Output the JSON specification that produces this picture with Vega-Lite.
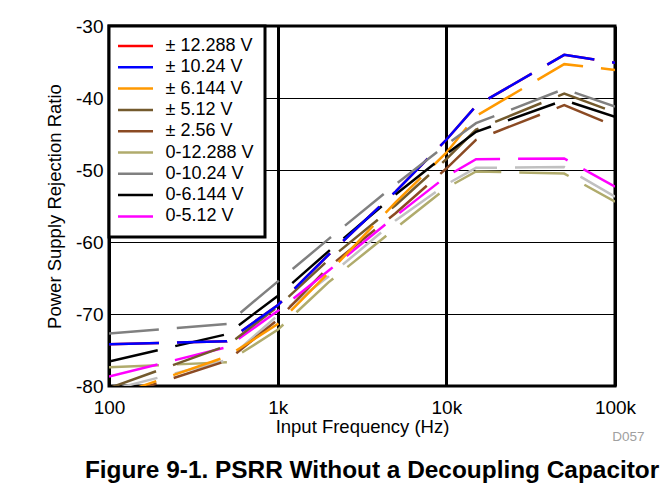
{
  "$schema": "https://vega.github.io/schema/vega-lite/v6.json",
  "background": "white",
  "padding": {"left": 44, "top": 15, "right": 5, "bottom": 5},
  "title": {"text": "Figure 9-1. PSRR Without a Decoupling Capacitor", "orient": "bottom", "anchor": "middle", "font": "Liberation Sans", "fontSize": 24.4, "fontWeight": "bold", "color": "black", "offset": 14, "dx": 27},
  "config": {
    "view": {"stroke": "black", "strokeWidth": 3},
    "font": "Liberation Sans"
  },
  "vconcat": [
    {
      "width": 506,
      "height": 360,
      "title": {"text": "D057", "orient": "bottom", "anchor": "end", "font": "Liberation Sans", "fontSize": 13.5, "fontWeight": "normal", "color": "#a0a0a0", "dx": 9, "offset": -6},
      "data": {"values": [
        {"s": "± 12.288 V", "f": 100, "v": -74.2}, {"s": "± 12.288 V", "f": 500, "v": -73.8}, {"s": "± 12.288 V", "f": 1000, "v": -68.8}, {"s": "± 12.288 V", "f": 2000, "v": -61.8}, {"s": "± 12.288 V", "f": 5000, "v": -53.0}, {"s": "± 12.288 V", "f": 10000, "v": -45.8}, {"s": "± 12.288 V", "f": 15000, "v": -41.1}, {"s": "± 12.288 V", "f": 50000, "v": -34.0}, {"s": "± 12.288 V", "f": 100000, "v": -35.1},
        {"s": "0-12.288 V", "f": 100, "v": -77.4}, {"s": "0-12.288 V", "f": 500, "v": -76.7}, {"s": "0-12.288 V", "f": 1000, "v": -72.2}, {"s": "0-12.288 V", "f": 2000, "v": -65.6}, {"s": "0-12.288 V", "f": 5000, "v": -58.1}, {"s": "0-12.288 V", "f": 10000, "v": -52.5}, {"s": "0-12.288 V", "f": 15000, "v": -50.2}, {"s": "0-12.288 V", "f": 50000, "v": -50.5}, {"s": "0-12.288 V", "f": 100000, "v": -54.4},
        {"s": "0-2.56 V", "f": 100, "v": -80.6}, {"s": "0-2.56 V", "f": 500, "v": -76.4}, {"s": "0-2.56 V", "f": 1000, "v": -70.2}, {"s": "0-2.56 V", "f": 2000, "v": -64.8}, {"s": "0-2.56 V", "f": 5000, "v": -57.0}, {"s": "0-2.56 V", "f": 10000, "v": -52.0}, {"s": "0-2.56 V", "f": 15000, "v": -49.7}, {"s": "0-2.56 V", "f": 50000, "v": -49.6}, {"s": "0-2.56 V", "f": 100000, "v": -53.7},
        {"s": "± 2.56 V", "f": 100, "v": -81.8}, {"s": "± 2.56 V", "f": 500, "v": -76.5}, {"s": "± 2.56 V", "f": 1000, "v": -70.8}, {"s": "± 2.56 V", "f": 2000, "v": -63.5}, {"s": "± 2.56 V", "f": 5000, "v": -56.0}, {"s": "± 2.56 V", "f": 10000, "v": -49.8}, {"s": "± 2.56 V", "f": 15000, "v": -45.8}, {"s": "± 2.56 V", "f": 50000, "v": -41.0}, {"s": "± 2.56 V", "f": 100000, "v": -43.9},
        {"s": "0-5.12 V", "f": 100, "v": -78.7}, {"s": "0-5.12 V", "f": 500, "v": -74.6}, {"s": "0-5.12 V", "f": 1000, "v": -69.6}, {"s": "0-5.12 V", "f": 2000, "v": -64.0}, {"s": "0-5.12 V", "f": 5000, "v": -56.4}, {"s": "0-5.12 V", "f": 10000, "v": -50.9}, {"s": "0-5.12 V", "f": 15000, "v": -48.5}, {"s": "0-5.12 V", "f": 50000, "v": -48.4}, {"s": "0-5.12 V", "f": 100000, "v": -52.3},
        {"s": "± 5.12 V", "f": 100, "v": -80.3}, {"s": "± 5.12 V", "f": 500, "v": -74.4}, {"s": "± 5.12 V", "f": 1000, "v": -69.0}, {"s": "± 5.12 V", "f": 2000, "v": -62.5}, {"s": "± 5.12 V", "f": 5000, "v": -54.9}, {"s": "± 5.12 V", "f": 10000, "v": -48.5}, {"s": "± 5.12 V", "f": 15000, "v": -44.4}, {"s": "± 5.12 V", "f": 50000, "v": -39.4}, {"s": "± 5.12 V", "f": 100000, "v": -42.0},
        {"s": "± 6.144 V", "f": 100, "v": -81.6}, {"s": "± 6.144 V", "f": 500, "v": -75.9}, {"s": "± 6.144 V", "f": 1000, "v": -71.4}, {"s": "± 6.144 V", "f": 2000, "v": -64.3}, {"s": "± 6.144 V", "f": 5000, "v": -54.5}, {"s": "± 6.144 V", "f": 10000, "v": -47.6}, {"s": "± 6.144 V", "f": 15000, "v": -42.5}, {"s": "± 6.144 V", "f": 50000, "v": -35.3}, {"s": "± 6.144 V", "f": 100000, "v": -36.1},
        {"s": "0-6.144 V", "f": 100, "v": -76.6}, {"s": "0-6.144 V", "f": 500, "v": -72.8}, {"s": "0-6.144 V", "f": 1000, "v": -67.5}, {"s": "0-6.144 V", "f": 2000, "v": -61.3}, {"s": "0-6.144 V", "f": 5000, "v": -53.4}, {"s": "0-6.144 V", "f": 10000, "v": -47.8}, {"s": "0-6.144 V", "f": 15000, "v": -44.7}, {"s": "0-6.144 V", "f": 50000, "v": -40.3}, {"s": "0-6.144 V", "f": 100000, "v": -42.6},
        {"s": "± 10.24 V", "f": 100, "v": -74.2}, {"s": "± 10.24 V", "f": 500, "v": -73.8}, {"s": "± 10.24 V", "f": 1000, "v": -68.8}, {"s": "± 10.24 V", "f": 2000, "v": -61.8}, {"s": "± 10.24 V", "f": 5000, "v": -53.0}, {"s": "± 10.24 V", "f": 10000, "v": -45.8}, {"s": "± 10.24 V", "f": 15000, "v": -41.1}, {"s": "± 10.24 V", "f": 50000, "v": -34.0}, {"s": "± 10.24 V", "f": 100000, "v": -35.1},
        {"s": "0-10.24 V", "f": 100, "v": -72.7}, {"s": "0-10.24 V", "f": 500, "v": -71.4}, {"s": "0-10.24 V", "f": 1000, "v": -65.5}, {"s": "0-10.24 V", "f": 2000, "v": -59.6}, {"s": "0-10.24 V", "f": 5000, "v": -52.0}, {"s": "0-10.24 V", "f": 10000, "v": -46.5}, {"s": "0-10.24 V", "f": 15000, "v": -43.5}, {"s": "0-10.24 V", "f": 50000, "v": -38.75}, {"s": "0-10.24 V", "f": 100000, "v": -41.2}
      ]},
      "mark": {"type": "line", "strokeWidth": 2.5, "strokeDash": [50, 18], "clip": true},
      "encoding": {
        "x": {
          "field": "f", "type": "quantitative",
          "scale": {"type": "log", "domain": [100, 100000]},
          "axis": {
            "values": [100, 1000, 10000, 100000],
            "labelExpr": "datum.value >= 1000 ? (datum.value / 1000) + 'k' : '' + datum.value",
            "grid": true, "gridColor": "black", "gridWidth": 3, "gridOpacity": 1,
            "ticks": false, "domain": false,
            "labelFont": "Liberation Sans", "labelFontSize": 19, "labelColor": "black", "labelPadding": 12, "labelFlush": false,
            "title": "Input Frequency (Hz)", "titleFont": "Liberation Sans", "titleFontSize": 18.5, "titleFontWeight": "normal", "titleColor": "black", "titlePadding": 0
          }
        },
        "y": {
          "field": "v", "type": "quantitative",
          "scale": {"domain": [-80, -30], "nice": false, "zero": false},
          "axis": {
            "values": [-80, -70, -60, -50, -40, -30],
            "labelExpr": "'' + datum.value",
            "grid": true, "gridColor": "black", "gridWidth": 1, "gridOpacity": 1,
            "ticks": false, "domain": false,
            "labelFont": "Liberation Sans", "labelFontSize": 19, "labelColor": "black", "labelPadding": 6, "labelFlush": false, "labelOverlap": false,
            "title": "Power Supply Rejection Ratio", "titleFont": "Liberation Sans", "titleFontSize": 18.5, "titleFontWeight": "normal", "titleColor": "black", "titlePadding": 11
          }
        },
        "color": {
          "field": "s", "type": "nominal",
          "scale": {
            "domain": ["± 12.288 V", "± 10.24 V", "± 6.144 V", "± 5.12 V", "± 2.56 V", "0-12.288 V", "0-10.24 V", "0-6.144 V", "0-5.12 V", "0-2.56 V"],
            "range": ["#ff0000", "#0000ff", "#ff9900", "#735a2d", "#8b4a23", "#b0ab6c", "#808080", "#000000", "#ff00ff", "#c0c0c0"]
          },
          "legend": {
            "values": ["± 12.288 V", "± 10.24 V", "± 6.144 V", "± 5.12 V", "± 2.56 V", "0-12.288 V", "0-10.24 V", "0-6.144 V", "0-5.12 V"],
            "title": null,
            "orient": "top-left", "offset": 0, "padding": 11,
            "strokeColor": "black", "fillColor": "white",
            "rowPadding": 3.3,
            "labelFont": "Liberation Sans", "labelFontSize": 18, "labelColor": "black", "labelOffset": 21, "labelLimit": 300,
            "symbolType": "M-3.5,0H3.5", "symbolSize": 100, "symbolStrokeWidth": 2.5, "symbolOffset": 6.5, "symbolDash": [1000, 0],
            "encode": {"legend": {"update": {"strokeWidth": {"value": 3}}}}
          }
        }
      }
    }
  ]
}
